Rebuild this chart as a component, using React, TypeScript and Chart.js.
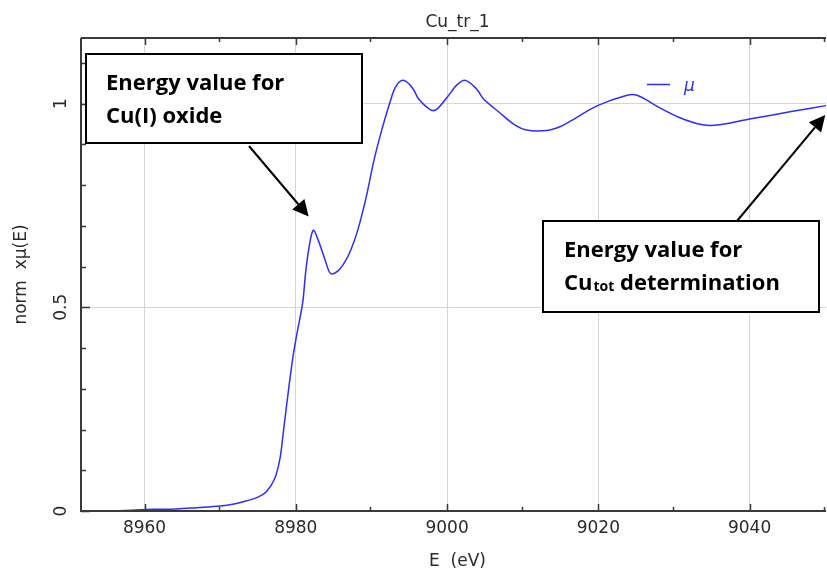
import React, { useEffect, useRef } from "react";
import { Chart, registerables } from "chart.js";

Chart.register(...registerables);

// ---- data ----
const energy = [
  8951.6, 8955.0, 8958.3, 8961.0, 8964.2, 8966.9, 8970.0, 8972.0, 8973.5, 8975.0,
  8976.1, 8977.2, 8977.9, 8978.3, 8978.8, 8979.6, 8980.2, 8980.9, 8981.3, 8981.7,
  8982.3, 8982.9, 8983.9, 8984.6, 8985.5, 8986.5, 8987.3, 8988.2, 8989.3, 8990.4,
  8991.5, 8992.4, 8993.2, 8994.2, 8995.4, 8996.3, 8997.9, 8998.7, 9000.2, 9001.3,
  9002.4, 9003.9, 9004.8, 9007.0, 9009.0, 9010.5, 9013.2, 9014.9, 9016.3, 9019.9,
  9023.7, 9025.2, 9027.6, 9030.7, 9033.8, 9036.0, 9040.0, 9045.7, 9050.1,
];
const mu = [
  0.0, 0.0, 0.002, 0.004, 0.005, 0.008, 0.012, 0.018, 0.025, 0.034,
  0.047, 0.079, 0.128, 0.185, 0.262, 0.375, 0.44, 0.51, 0.585, 0.641,
  0.689, 0.668, 0.615, 0.583, 0.588, 0.612, 0.642, 0.69, 0.77, 0.866,
  0.944, 1.0, 1.041, 1.057, 1.039, 1.01, 0.984, 0.987, 1.02, 1.046,
  1.057, 1.036, 1.012, 0.977, 0.947, 0.935, 0.934, 0.943, 0.957, 0.995,
  1.02, 1.02, 0.995, 0.966, 0.948, 0.948, 0.962, 0.981, 0.995,
];
const xMajorTicks = [8960, 8980, 9000, 9020, 9040];
const xMinorTicks = [8970, 8990, 9010, 9030, 9050];
const yMajorTicks = [0, 0.5, 1];
const yTickLabels = ["0", "0.5", "1"];
const yMinorTicks = [0.1, 0.2, 0.3, 0.4, 0.6, 0.7, 0.8, 0.9, 1.1];
const titleText = "Cu_tr_1";
const xAxisTitle = "E  (eV)";
const yAxisTitle = "norm  x\u03bc(E)";
const legendLabel = "\u03bc";
const oxideTip = { e: 8981.7, mu: 0.723 };
const totTip = { e: 9050.0, mu: 0.972 };

const BLUE = "rgb(45,45,255)";
const AXIS = "#3a3a3a";
const TEXT = "#2a2a2a";
const BOX_FONT = '"Open Sans"';

function drawArrow(ctx: CanvasRenderingContext2D, x0: number, y0: number, x1: number, y1: number) {
  const ang = Math.atan2(y1 - y0, x1 - x0);
  const headLen = 16;
  const headW = 8;
  const bx = x1 - headLen * Math.cos(ang);
  const by = y1 - headLen * Math.sin(ang);
  ctx.save();
  ctx.strokeStyle = "#000";
  ctx.fillStyle = "#000";
  ctx.lineWidth = 2;
  ctx.beginPath();
  ctx.moveTo(x0, y0);
  ctx.lineTo(bx, by);
  ctx.stroke();
  ctx.beginPath();
  ctx.moveTo(x1, y1);
  ctx.lineTo(bx + headW * Math.sin(ang), by - headW * Math.cos(ang));
  ctx.lineTo(bx - headW * Math.sin(ang), by + headW * Math.cos(ang));
  ctx.closePath();
  ctx.fill();
  ctx.restore();
}

const decorPlugin = {
  id: "decor",
  afterDraw(chart: any) {
    const { ctx, chartArea, scales } = chart;
    const { left, right, top, bottom } = chartArea;
    const xs = scales.x;
    const ys = scales.y;
    ctx.save();

    // frame
    ctx.strokeStyle = AXIS;
    ctx.lineWidth = 2;
    ctx.beginPath();
    ctx.moveTo(left, top);
    ctx.lineTo(left, bottom);
    ctx.lineTo(right, bottom);
    ctx.moveTo(left, top);
    ctx.lineTo(right, top);
    ctx.stroke();

    // ticks (inward)
    ctx.lineWidth = 1.5;
    ctx.beginPath();
    xMajorTicks.forEach((v) => {
      const px = Math.round(xs.getPixelForValue(v)) + 0.5;
      ctx.moveTo(px, bottom);
      ctx.lineTo(px, bottom - 7);
      ctx.moveTo(px, top);
      ctx.lineTo(px, top + 7);
    });
    xMinorTicks.forEach((v) => {
      const px = Math.round(xs.getPixelForValue(v)) - 0.5;
      ctx.moveTo(px, bottom);
      ctx.lineTo(px, bottom - 4);
      ctx.moveTo(px, top);
      ctx.lineTo(px, top + 4);
    });
    yMajorTicks.forEach((v) => {
      const py = Math.round(ys.getPixelForValue(v)) + 0.5;
      ctx.moveTo(left, py);
      ctx.lineTo(left + 9, py);
    });
    yMinorTicks.forEach((v) => {
      const py = Math.round(ys.getPixelForValue(v)) + 0.5;
      ctx.moveTo(left, py);
      ctx.lineTo(left + 5, py);
    });
    ctx.stroke();

    // tick labels
    ctx.fillStyle = TEXT;
    ctx.font = '17px "DejaVu Sans"';
    ctx.textAlign = "center";
    ctx.textBaseline = "middle";
    xMajorTicks.forEach((v) => {
      ctx.fillText(String(v), xs.getPixelForValue(v), bottom + 18);
    });
    yMajorTicks.forEach((v, i) => {
      ctx.save();
      ctx.translate(left - 19, ys.getPixelForValue(v));
      ctx.rotate(-Math.PI / 2);
      ctx.fillText(yTickLabels[i], 0, 0);
      ctx.restore();
    });

    // axis titles and title
    const cx = (left + right) / 2 + 4;
    ctx.fillText(xAxisTitle, cx, bottom + 51);
    ctx.fillText(titleText, cx, 23);
    ctx.save();
    ctx.translate(22, (top + bottom) / 2);
    ctx.rotate(-Math.PI / 2);
    ctx.fillText(yAxisTitle, 0, 0);
    ctx.restore();

    // legend
    ctx.strokeStyle = BLUE;
    ctx.lineWidth = 1.5;
    ctx.beginPath();
    ctx.moveTo(647, 84.5);
    ctx.lineTo(670, 84.5);
    ctx.stroke();
    ctx.fillStyle = BLUE;
    ctx.font = 'italic 17px "DejaVu Sans"';
    ctx.textAlign = "left";
    ctx.textBaseline = "alphabetic";
    ctx.fillText(legendLabel, 684, 91);

    // annotation boxes
    ctx.fillStyle = "#fff";
    ctx.strokeStyle = "#000";
    ctx.lineWidth = 2;
    ctx.fillRect(86, 54, 276, 89);
    ctx.strokeRect(86, 54, 276, 89);
    ctx.fillRect(543, 221, 276, 91);
    ctx.strokeRect(543, 221, 276, 91);

    ctx.fillStyle = "#000";
    ctx.font = `bold 22px ${BOX_FONT}`;
    ctx.fillText("Energy value for", 106, 90);
    ctx.fillText("Cu(I) oxide", 106, 123);
    ctx.fillText("Energy value for", 564, 257);
    ctx.fillText("Cu", 564, 290);
    const cuW = ctx.measureText("Cu").width;
    ctx.font = `bold 14px ${BOX_FONT}`;
    ctx.fillText("tot", 564 + cuW + 1, 291);
    const totW = ctx.measureText("tot").width;
    ctx.font = `bold 22px ${BOX_FONT}`;
    ctx.fillText(" determination", 564 + cuW + 1 + totW, 290);

    // arrows
    drawArrow(ctx, 249, 146, xs.getPixelForValue(oxideTip.e), ys.getPixelForValue(oxideTip.mu));
    drawArrow(ctx, 737, 221, xs.getPixelForValue(totTip.e), ys.getPixelForValue(totTip.mu));

    ctx.restore();
  },
};

export default function App() {
  const ref = useRef<HTMLCanvasElement | null>(null);
  useEffect(() => {
    if (!ref.current) return;
    const chart = new Chart(ref.current, {
      type: "line",
      data: {
        datasets: [
          {
            label: legendLabel,
            data: energy.map((e, i) => ({ x: e, y: mu[i] })),
            borderColor: BLUE,
            borderWidth: 1.5,
            pointRadius: 0,
            tension: 0.35,
            fill: false,
            clip: 3,
          } as any,
        ],
      },
      options: {
        animation: false,
        responsive: true,
        maintainAspectRatio: false,
        layout: { padding: { top: 38, right: 1, left: 0, bottom: 0 } },
        plugins: { legend: { display: false }, tooltip: { enabled: false }, title: { display: false } },
        scales: {
          x: {
            type: "linear",
            min: 8951.6,
            max: 9050.1,
            afterBuildTicks: (s: any) => {
              s.ticks = xMajorTicks.map((v) => ({ value: v }));
            },
            afterFit: (s: any) => {
              s.height = 60;
            },
            ticks: { display: false },
            border: { display: false },
            grid: { color: "#d6d6d6", lineWidth: 1, drawTicks: false },
          },
          y: {
            type: "linear",
            min: 0,
            max: 1.161,
            afterBuildTicks: (s: any) => {
              s.ticks = yMajorTicks.map((v) => ({ value: v }));
            },
            afterFit: (s: any) => {
              s.width = 81;
            },
            ticks: { display: false },
            border: { display: false },
            grid: { color: "#d6d6d6", lineWidth: 1, drawTicks: false },
          },
        },
      },
      plugins: [decorPlugin],
    });
    return () => chart.destroy();
  }, []);
  return (
    <div style={{ position: "fixed", left: 0, top: 0, width: 827, height: 571, background: "#fff" }}>
      <canvas ref={ref} />
    </div>
  );
}
